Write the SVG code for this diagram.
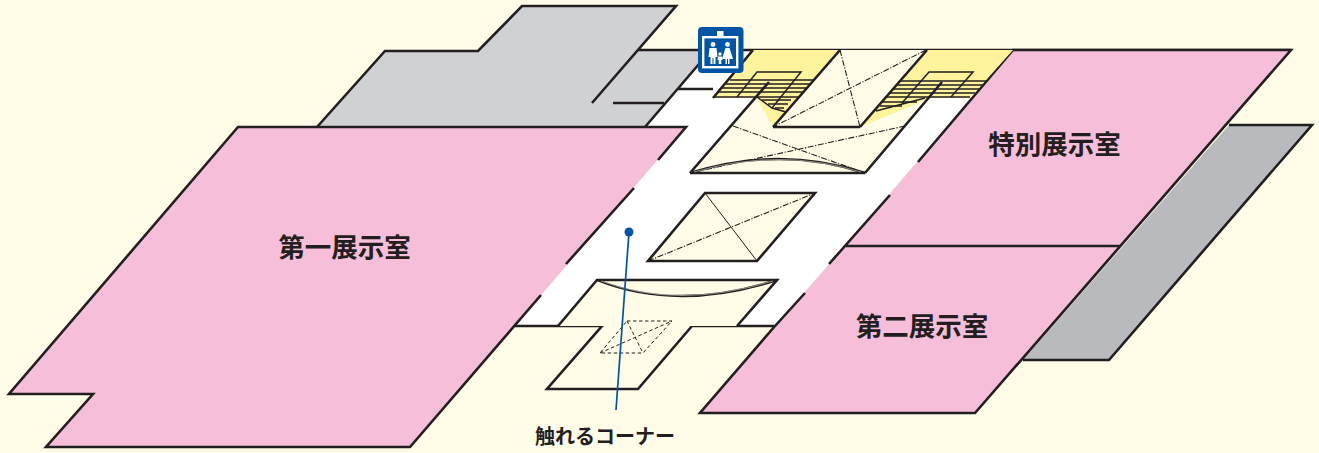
<svg xmlns="http://www.w3.org/2000/svg" width="1319" height="453" viewBox="0 0 1319 453">
<style>
.w{fill:none;stroke:#231f20;stroke-width:2.6;stroke-linejoin:miter}
.t{fill:none;stroke:#231f20;stroke-width:1.5}
.h{fill:none;stroke:#231f20;stroke-width:1}
.b{fill:none;stroke:#231f20;stroke-width:1.7}
.d{fill:none;stroke:#231f20;stroke-width:1.1;stroke-dasharray:6 1.6 1.2 1.6}
.s{fill:none;stroke:#231f20;stroke-width:1;stroke-dasharray:3.5 2.5}
.c{fill:#fffce8}
.p{fill:#f6bed8}
.y{fill:#fff39b}
text{font-family:"Noto Sans CJK JP","Noto Sans",sans-serif;fill:#231f20;font-weight:700;text-anchor:middle}
</style>
<rect width="1319" height="453" fill="#fffce8"/>
<g id="corridor"><polygon points="514,326 775,326 1013,50 711,50 645,127 686,127" fill="#fff"/></g>
<g id="storage-north">
<polygon points="317,127 385,51 478,51 522,6 676,6 638,50 711,50 645,127" fill="#d0d1d3"/>
<path class="w" d="M317,127L385,51H478L522,6H676L592,103M613,103H664M677,89H713M638,50H1291M711,50L645,127"/>
</g>
<g id="storage-east">
<polygon points="1229,125 1312,125 1109,360 1023,360" fill="#b9babd"/>
<path class="w" d="M1229,125H1312L1109,360H1023"/>
</g>
<g id="room-first">
<polygon class="p" points="238,127 686,127 410,447 46,447 93,394 9,394"/>
<path class="w" d="M658,160L686,127H238L9,394H93L46,447H410L541,295M566,264L634,188"/>
</g>
<g id="room-special">
<polygon class="p" points="1013,50 1291,50 1120,246 845,246"/>
</g>
<g id="room-second">
<polygon class="p" points="845,246 1120,246 975,413 700,413 775,326"/>
<path class="w" d="M918,162L1013,50H1291L975,413H700L775,326M890,195L845,246H1120M829,264L845,246M805,293L775,326H692L638,389H547L602,326H514"/>
</g>
<g id="void-lower-stair">
<polygon class="c" points="768,82 942,82 865,173 690,173"/>
<polygon class="c" points="840,50 926,50 860,127 773,127"/>
</g>
<g id="stairs-west">
<polygon class="y" points="753,50 840,50 773,127 757,98 713,98"/>
<path class="b" d="M730,80H814M726,84H810M722,88H807M718,92H803M713,97H798M762,100H791M768,104H788M775,108H784"/>
<path class="t" d="M737,97L757,72H801L772,108M757,97L772,108L786,112"/>
<path class="w" d="M769,82L690,173M753,50L713,98M840,50L773,127"/>
</g>
<g id="stairs-east">
<polygon class="y" points="927,50 1013,50 970,98 930,98 860,127"/>
<path class="b" d="M900,81H987M896,85H983M893,89H979M889,93H975M885,97H970M883,102H917M880,106H902"/>
<path class="t" d="M902,103L929,72H973L951,97M876,111L925,98"/>
<path class="w" d="M942,82L865,173M927,50L860,127"/>
</g>
<g id="void-north">
<path class="w" d="M773,127H860M690,173H865"/>
<path class="d" d="M840,50L860,127M926,50L773,127M733,126L865,173M905,126L690,173"/>
<path d="M690,173Q780,145 865,173" fill="none" stroke="#231f20" stroke-width="2.400"/>
<path d="M694,172Q780,147 861,172" fill="none" stroke="#fffce8" stroke-width=".5"/>
</g>
<g id="void-middle">
<polygon class="c" points="705,193 815,193 757,261 648,261"/>
<path class="w" d="M705,193H815L757,261H648Z"/>
<path class="d" d="M648,261L815,193"/>
<path class="h" d="M705,193L757,261"/>
</g>
<g id="void-south">
<polygon class="c" points="597,280 777,280 737,326 558,326"/>
<path class="w" d="M558,326L597,280H777L737,326"/>
<path d="M597,280Q677,312 777,280" fill="none" stroke="#231f20" stroke-width="2.400"/>
<path d="M601,281Q677,310 773,281" fill="none" stroke="#fffce8" stroke-width=".5"/>
<path class="s" d="M627,321H672L643,353H600ZM627,321L643,353M600,353L672,321"/>
</g>
<g id="elevator">
<rect x="698" y="27" width="45.500" height="46" rx="4" fill="#0054a6"/>
<rect x="703.200" y="37.200" width="34" height="30" fill="none" stroke="#fff" stroke-width="2.400"/>
<rect x="717" y="31" width="6.500" height="6" fill="#fff"/>
<g fill="#fff">
<circle cx="713" cy="44.500" r="2.400"/>
<path d="M709.500,48H716.500L717.500,57H715.500V64H713.500V58H712.500V64H710.500V57H708.500Z"/>
<circle cx="727.500" cy="44.500" r="2.400"/>
<path d="M725.500,48H729.500L733,59H729.500V64H728V59H727V64H725.500V59H722Z"/>
<circle cx="720" cy="54" r="1.700"/>
<path d="M718,56.500H722L722.500,60H721.300V64H718.700V60H717.500Z"/>
</g>
</g>
<g id="connectors">
<circle cx="629" cy="232" r="4.500" fill="#0054a6"/>
<path d="M629,232L616,410" fill="none" stroke="#0054a6" stroke-width="1.700"/>
</g>
<g id="labels">
<text x="344.500" y="257" font-size="26.500">第一展示室</text>
<text x="1054.500" y="154" font-size="26.500">特別展示室</text>
<text x="922" y="336" font-size="26.500">第二展示室</text>
<text x="605" y="444" font-size="20">触れるコーナー</text>
</g>
</svg>
